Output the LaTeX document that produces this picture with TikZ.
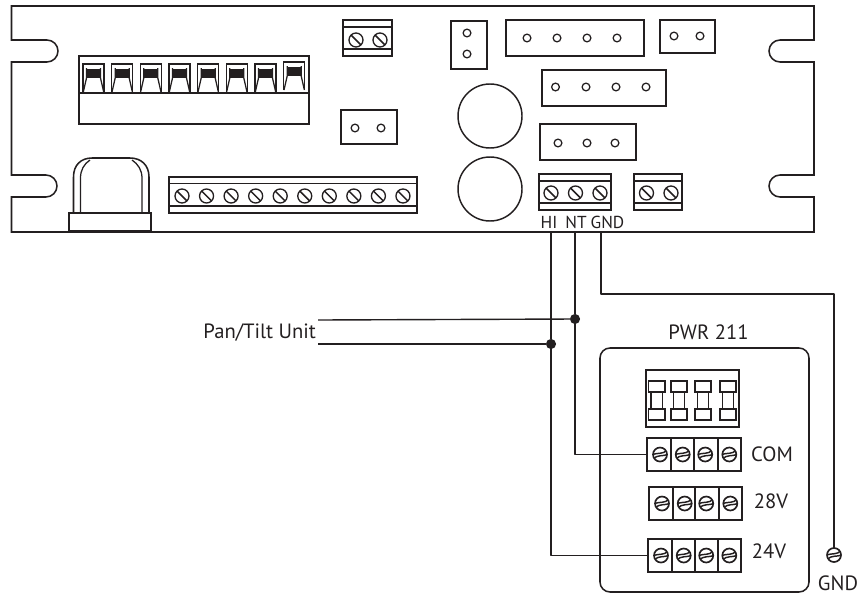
\documentclass[tikz,border=0pt]{standalone}
\usepackage{fontspec}
\setmainfont{PT Sans}
\definecolor{ink}{HTML}{231F20}
\tikzset{
  x=0.75pt,y=-0.75pt,
  pcb/.style={draw=ink,line width=1.15pt,fill=none,rectangle,inner sep=0pt,outer sep=0pt},
  thin line/.style={draw=ink,line width=1.15pt},
  wire/.style={draw=ink,line width=1.05pt,line join=round},
  pin/.style={circle,draw=ink,line width=0.95pt,minimum size=5.8pt,inner sep=0pt,outer sep=0pt},
  slotscrew/.style={circle,draw=ink,line width=1pt,minimum size=10.5pt,inner sep=0pt,outer sep=0pt,
    path picture={\draw[ink,line width=1.1pt] (path picture bounding box.north west)--(path picture bounding box.south east);}},
  wavescrew/.style={circle,draw=ink,line width=1.25pt,minimum size=10.5pt,inner sep=0pt,outer sep=0pt,
    path picture={\draw[ink,line width=1.1pt] ([xshift=-5pt,yshift=-3.2pt]path picture bounding box.center) .. controls +(2.5pt,3pt) and +(-2pt,-1pt) .. ([xshift=5pt,yshift=-0.2pt]path picture bounding box.center);
    \draw[ink,line width=1.1pt] ([xshift=-5pt,yshift=0.2pt]path picture bounding box.center) .. controls +(2.5pt,1pt) and +(-2pt,-3pt) .. ([xshift=5pt,yshift=3.2pt]path picture bounding box.center);}},
  lbl/.style={text=ink,font=\fontsize{15.5}{18}\selectfont,inner sep=0pt,outer sep=0pt},
  smalllbl/.style={text=ink,font=\fontsize{13}{15}\selectfont,inner sep=0pt,outer sep=0pt},
  dot/.style={circle,fill=ink,minimum size=7.6pt,inner sep=0pt,outer sep=0pt},
  bigcircle/.style={circle,draw=ink,line width=1.1pt,minimum size=48pt,inner sep=0pt},
}
% name, x1, y1, x2, y2 in reference pixels
\newcommand{\pxbox}[6][pcb]{%
  \pgfmathsetmacro{\bw}{(#5-#3)*0.75}\pgfmathsetmacro{\bh}{(#6-#4)*0.75}%
  \node[#1,minimum width=\bw pt,minimum height=\bh pt] (#2) at ({(#3+#5)/2},{(#4+#6)/2}) {};}
\begin{document}
\begin{tikzpicture}
\useasboundingbox (0,0) rectangle (862,596);
% board outline
\draw[thin line,line join=miter] (11.5,6) -- (814,6) -- (814,40) -- (780,40)
  .. controls (774,40) and (769,45) .. (769,51) .. controls (769,57) and (774,62) .. (780,62)
  -- (814,62) -- (814,175) -- (780,175)
  .. controls (774,175) and (769,180) .. (769,186) .. controls (769,192) and (774,197) .. (780,197)
  -- (814,197) -- (814,232) -- (11.5,232) -- (11.5,197) -- (46,197)
  .. controls (52,197) and (57,192) .. (57,186) .. controls (57,180) and (52,175) .. (46,175)
  -- (11.5,175) -- (11.5,62) -- (47,62)
  .. controls (53,62) and (58,57) .. (58,51) .. controls (58,45) and (53,40) .. (47,40)
  -- (11.5,40) -- cycle;
% eight way connector
\pxbox{strip}{79}{56}{309}{124}
\draw[thin line] (79,93) -- (309,93);
\foreach \i/\cx/\dy in {1/83/0,2/111.7/0,3/140.3/0,4/169/0,5/197.7/0,6/226.3/0,7/255/0,8/283.7/-2}{
  \draw[thin line,line width=0.95pt] (\cx,92+\dy) -- (\cx,64+\dy) -- (\cx+21,64+\dy) -- (\cx+21,92+\dy);
  \fill[ink] (\cx+3.5,68.5+\dy) rectangle (\cx+17.5,78+\dy);
  \draw[thin line,line width=0.95pt] (\cx+3.5,68+\dy) -- (\cx+3.5,78+\dy) -- (\cx+0.3,92+\dy);
  \draw[thin line,line width=0.95pt] (\cx+17.5,68+\dy) -- (\cx+17.5,78+\dy) -- (\cx+20.7,92+\dy);
}
% two screw block, top
\pxbox{topblock}{343}{20}{392}{56}
\draw[thin line] (343,27) -- (392,27) (343,49) -- (392,49);
\node[slotscrew] (ts1) at (356,40) {};
\node[slotscrew] (ts2) at (380,40) {};
% jumper
\pxbox{jumpA}{341}{110}{397}{144}
\node[pin] (ja1) at (355,128) {};
\node[pin] (ja2) at (381,128) {};
% device
\draw[thin line] (73.5,213) -- (73.5,177) .. controls (73.5,165) and (81,158) .. (92,158) -- (130,158) .. controls (141,158) and (149,165) .. (149,177) -- (149,213);
\draw[thin line,line width=0.95pt] (80.5,213) -- (80.5,178) .. controls (80.5,170) and (84,164) .. (90,160);
\draw[thin line,line width=0.95pt] (142,213) -- (142,178) .. controls (142,170) and (138,164) .. (132,160);
\pxbox{devbase}{69}{213}{151}{231}
% ten screw block
\pxbox{tenblock}{169}{177}{417}{213}
\draw[thin line] (169,183.5) -- (417,183.5) (169,206) -- (417,206);
\foreach \i in {0,...,9}{\node[slotscrew] (tb\i) at (182+\i*24.55,196) {};}
% circles
\node[bigcircle] (capA) at (490,116) {};
\node[bigcircle] (capB) at (490,189) {};
% pin headers
\pxbox{jumpV}{451}{21}{487}{69}
\node[pin] (jv1) at (467,33) {};
\node[pin] (jv2) at (467,54) {};
\pxbox{headA}{506}{20}{644}{56}
\foreach \i/\px in {1/527,2/557,3/587,4/617}{\node[pin] (ha\i) at (\px,38) {};}
\pxbox{jumpB}{660}{20}{715}{53}
\node[pin] (jb1) at (674,36) {};
\node[pin] (jb2) at (700,36) {};
\pxbox{headB}{542}{70}{666}{106}
\foreach \i/\px in {1/555.5,2/586,3/616,4/646}{\node[pin] (hb\i) at (\px,87) {};}
\pxbox{headC}{540}{124}{636}{160}
\foreach \i/\px in {1/558,2/587,3/615}{\node[pin] (hc\i) at (\px,143) {};}
% power block
\pxbox{powblock}{539}{174}{611}{210}
\draw[thin line] (539,181) -- (611,181) (539,203) -- (611,203);
\node[slotscrew] (ps1) at (551,193) {};
\node[slotscrew] (ps2) at (575.5,193) {};
\node[slotscrew] (ps3) at (600,193) {};
\pxbox{auxblock}{634}{174}{682}{210}
\draw[thin line] (634,181) -- (682,181) (634,203) -- (682,203);
\node[slotscrew] (as1) at (646.5,193) {};
\node[slotscrew] (as2) at (671,193) {};
% labels on board
\node[smalllbl] (lhi) at (549,222) {HI};
\node[smalllbl] (lnt) at (576,222) {NT};
\node[smalllbl] (lgnd) at (607.5,222) {GND};
% PWR 211
\node[lbl] (lpwr) at (708.5,332) {PWR 211};
\draw[thin line,rounded corners=7.5pt] (600,348) rectangle (809,592);
\pxbox{fuseblock}{646}{370}{739}{427}
\foreach \i/\fa/\fb in {1/648.7/665,2/671/687,3/695/711,4/720/736}{
  \pxbox{fusetop\i}{\fa}{381}{\fb}{392}
  \pxbox{fusebot\i}{\fa}{409}{\fb}{420}
  \draw[thin line] (\fa+2.5,392) -- (\fa+2.5,409) (\fb-2.5,392) -- (\fb-2.5,409);
}
% terminal strips
\foreach \n/\x/\y/\a/\b/\c/\d in {com/647/438/671/694/718/741,vee/649/487/673/695/719/742,vtf/648/539/672/695/718/741}{
  \pxbox{\n A}{\x}{\y}{\a}{\y+33}
  \pxbox{\n B}{\a}{\y}{\b}{\y+33}
  \pxbox{\n C}{\b}{\y}{\c}{\y+33}
  \pxbox{\n D}{\c}{\y}{\d}{\y+33}
  \node[wavescrew] (\n s1) at (\x+13,\y+16.5) {};
  \node[wavescrew] (\n s2) at (\a+11.7,\y+16.5) {};
  \node[wavescrew] (\n s3) at (\b+11.2,\y+16.5) {};
  \node[wavescrew] (\n s4) at (\c+11.3,\y+16.5) {};
}
\node[lbl] (lcom) at (772,454) {COM};
\node[lbl] (l28) at (771,501) {28V};
\node[lbl] (l24) at (769,551) {24V};
% ground
\node[wavescrew] (gscrew) at (834,555) {};
\node[lbl] (lg2) at (838,583) {GND};
% wires
\coordinate (hiT) at (551,232);
\coordinate (ntT) at (575,232);
\coordinate (gndT) at (601,232);
\coordinate (gbend) at (601,294);
\coordinate (gcorner) at (834,294);
\node[lbl,anchor=east] (pan) at (316,333) {Pan/Tilt Unit};
\coordinate (panA) at (318,320);
\coordinate (panB) at (318,344);
\node[dot] (jnt) at (575,319) {};
\node[dot] (jhi) at (551,344) {};
\draw[wire] (hiT) -- (jhi) |- (vtfA.west);
\draw[wire] (ntT) -- (jnt) |- (comA.west);
\draw[wire] (gndT) -- (gbend) -- (gcorner) -- (gscrew.north);
\draw[wire] (panA) -- (jnt);
\draw[wire] (panB) -- (jhi);
\end{tikzpicture}
\end{document}
